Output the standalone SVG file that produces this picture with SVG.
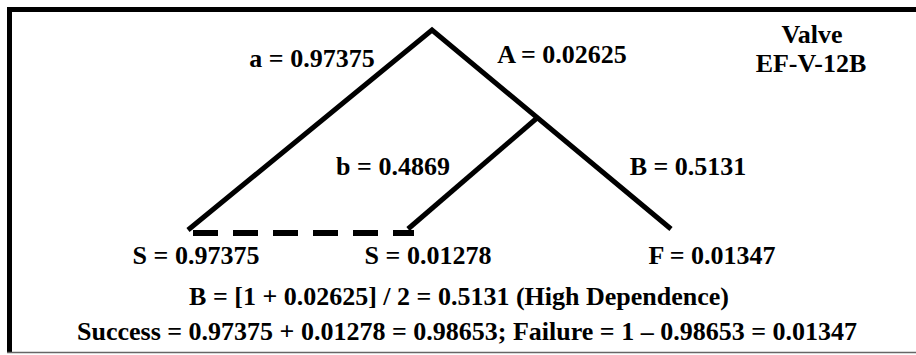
<svg xmlns="http://www.w3.org/2000/svg" width="916" height="355" viewBox="0 0 916 355">
<style>
.t{font-family:'Liberation Serif','Times New Roman',serif;font-weight:700;font-size:26px;fill:#000}
.c{text-anchor:middle}
.ln{stroke:#000;stroke-width:5;fill:none}
</style>
<rect x="0" y="0" width="916" height="355" fill="#fff"/>
<g id="frame">
<line x1="7" y1="9.5" x2="916" y2="9.5" stroke="#000" stroke-width="5"/>
<line x1="9.5" y1="7" x2="9.5" y2="353" stroke="#000" stroke-width="5"/>
<line x1="7" y1="352.5" x2="916" y2="352.5" stroke="#666" stroke-width="1.5"/>
</g>
<g id="connectors">
<polyline class="ln" points="188,230 432,30 671,229"/>
<line class="ln" x1="537" y1="118" x2="408" y2="229"/>
<line x1="193" y1="233" x2="414" y2="233" stroke="#000" stroke-width="6" stroke-dasharray="25,15"/>
</g>
<g id="labels">
<text class="t c" x="312" y="67">a = 0.97375</text>
<text class="t c" x="562" y="63">A = 0.02625</text>
<text class="t c" x="393" y="175">b = 0.4869</text>
<text class="t c" x="688" y="175">B = 0.5131</text>
</g>
<g id="title">
<text class="t c" x="812" y="43">Valve</text>
<text class="t c" x="811" y="72">EF-V-12B</text>
</g>
<g id="end-s1"><text class="t c" x="196" y="264">S = 0.97375</text></g>
<g id="end-s2"><text class="t c" x="428" y="264">S = 0.01278</text></g>
<g id="end-f"><text class="t c" x="712" y="264">F = 0.01347</text></g>
<g id="notes">
<text class="t c" x="459" y="305">B = [1 + 0.02625] / 2 = 0.5131 (High Dependence)</text>
<text class="t c" x="467" y="340">Success = 0.97375 + 0.01278 = 0.98653; Failure = 1 – 0.98653 = 0.01347</text>
</g>
</svg>
